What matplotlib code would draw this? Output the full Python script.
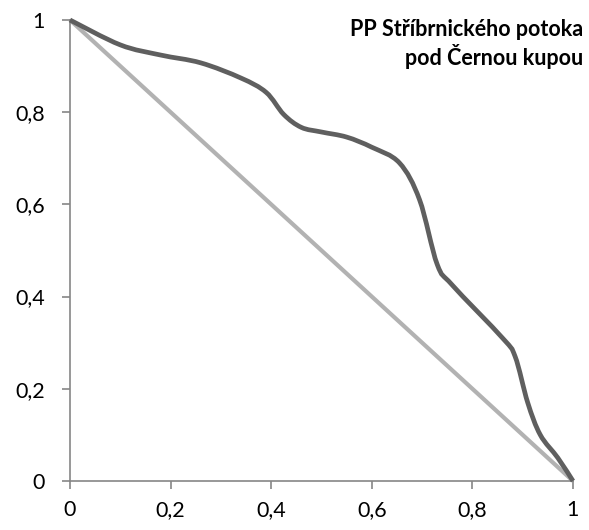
import matplotlib
matplotlib.use("Agg")
import matplotlib.pyplot as plt
from matplotlib.path import Path
from matplotlib.patches import PathPatch
import numpy as np

# data
curve_x = [0, 0.1, 0.18, 0.26, 0.34, 0.39, 0.425, 0.46, 0.5, 0.55, 0.6, 0.655,
           0.695, 0.73, 0.76, 0.86, 0.885, 0.91, 0.935, 0.97, 1]
curve_y = [1, 0.946, 0.924, 0.907, 0.874, 0.843, 0.795, 0.767, 0.757, 0.746, 0.724, 0.69,
           0.61, 0.47, 0.425, 0.31, 0.27, 0.17, 0.1, 0.05, 0]
diag_x = [0, 1]
diag_y = [1, 0]
ticks = [0, 0.2, 0.4, 0.6, 0.8, 1]
tick_labels = ["0", "0,2", "0,4", "0,6", "0,8", "1"]
title = "PP Stříbrnického potoka\npod Černou kupou"

plt.rcParams['font.family'] = ['Lato', 'DejaVu Sans']

fig = plt.figure(figsize=(5.89, 5.30), dpi=100)
ax = fig.add_axes([0.1188, 0.0925, 0.854, 0.8698])


def smooth_path(xs, ys):
    # Excel-style smoothed line: Catmull-Rom segments as cubic Bezier
    pts = np.column_stack([xs, ys])
    verts = [pts[0]]
    codes = [Path.MOVETO]
    n = len(pts)
    for i in range(n - 1):
        p0 = pts[max(i - 1, 0)]
        p1 = pts[i]
        p2 = pts[i + 1]
        p3 = pts[min(i + 2, n - 1)]
        c1 = p1 + (p2 - p0) / 6
        c2 = p2 - (p3 - p1) / 6
        verts += [c1, c2, p2]
        codes += [Path.CURVE4] * 3
    return Path(verts, codes)


ax.plot(diag_x, diag_y, color='#b2b2b2', lw=3.0, solid_capstyle='butt', clip_on=False, zorder=2)
ax.add_patch(PathPatch(smooth_path(curve_x, curve_y), facecolor='none',
                       edgecolor='#5f5f5f', lw=3.4, clip_on=False, zorder=3))

ax.set_xlim(0, 1)
ax.set_ylim(0, 1)
ax.set_xticks(ticks)
ax.set_xticklabels(tick_labels)
ax.set_yticks(ticks)
ax.set_yticklabels(tick_labels)

for s in ['top', 'right']:
    ax.spines[s].set_visible(False)
for s in ['left', 'bottom']:
    ax.spines[s].set_color('#868686')
    ax.spines[s].set_linewidth(1.2)
ax.tick_params(direction='out', length=6, width=1.2, color='#868686',
               labelsize=15.5, labelcolor='black')
ax.tick_params(axis='y', pad=12)
ax.tick_params(axis='x', pad=8)

fig.text(0.99, 0.964, title, ha='right', va='top', fontsize=15.5,
         fontweight='bold', linespacing=1.2)

fig.savefig('out.png', dpi=100)
